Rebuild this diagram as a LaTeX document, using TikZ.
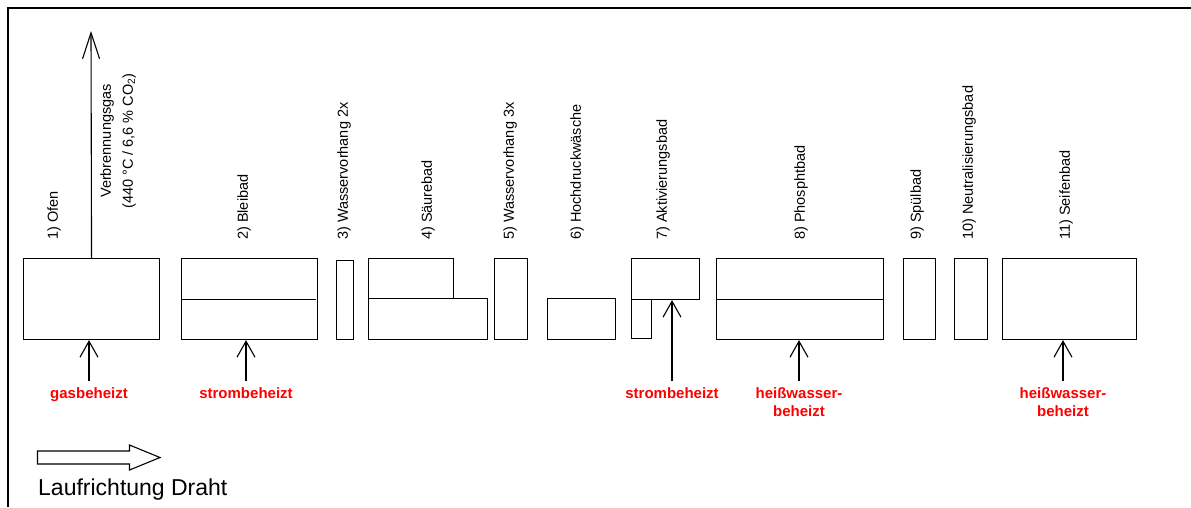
\documentclass[tikz,border=0pt]{standalone}
\usepackage{fontspec}
\setmainfont{Liberation Sans}
\usetikzlibrary{arrows.meta}

\tikzset{
  tank/.style={draw, line width=1.1pt, inner sep=0pt, anchor=north west},
  stage/.style={rotate=90, anchor=west, inner sep=0pt, font=\fontsize{14.5}{17}\selectfont},
  heatlabel/.style={text=red, align=center, anchor=north, inner sep=0pt, outer ysep=7pt,
    font=\fontsize{15}{18}\selectfont\bfseries},
  heat/.style={line width=1.1pt, -{Straight Barb[length=16pt,width=18pt]}},
}

\begin{document}
\begin{tikzpicture}[x=1pt, y=-1pt]
	\useasboundingbox (0,0) rectangle (1191,507);
	% frame
	\draw [line width=1.1pt] (8,507) -- (8,8) -- (1191,8);
	% tanks
	\node [tank, minimum width=136pt, minimum height=81pt] (ofen) at (23,258) {};
	\node [tank, minimum width=136pt, minimum height=81pt] (blei) at (181,258) {};
	\draw [line width=1.1pt] (blei.west) -- ([xshift=-2pt]blei.east);
	\node [tank, minimum width=17pt, minimum height=79pt] (wv2) at (336,260) {};
	\node [tank, minimum width=85pt, minimum height=40pt] (saeureA) at (368,258) {};
	\node [tank, minimum width=119pt, minimum height=41pt] (saeureB) at (368,298) {};
	\node [tank, minimum width=33pt, minimum height=81pt] (wv3) at (494,258) {};
	\node [tank, minimum width=68pt, minimum height=41pt] (hdw) at (547,298) {};
	\node [tank, minimum width=68pt, minimum height=41pt] (aktivA) at (631,258) {};
	\node [tank, minimum width=20pt, minimum height=39pt] (aktivB) at (631,299) {};
	\node [tank, minimum width=167pt, minimum height=81pt] (phos) at (716,258) {};
	\draw [line width=1.1pt] (phos.west) -- (phos.east);
	\node [tank, minimum width=32pt, minimum height=81pt] (spuel) at (903,258) {};
	\node [tank, minimum width=33pt, minimum height=81pt] (neutral) at (954,258) {};
	\node [tank, minimum width=134pt, minimum height=81pt] (seife) at (1002,258) {};
	% stage names
	\node [stage] (lofen) at (54,240) {1) Ofen};
	\node [stage] (lblei) at (244,240) {2) Bleibad};
	\node [stage] (lwv2) at (344,240) {3) Wasservorhang 2x};
	\node [stage] (lsaeure) at (428,240) {4) Säurebad};
	\node [stage] (lwv3) at (510,240) {5) Wasservorhang 3x};
	\node [stage] (lhdw) at (577,240) {6) Hochdruckwäsche};
	\node [stage] (laktiv) at (663,240) {7) Aktivierungsbad};
	\node [stage] (lphos) at (801,240) {8) Phosphtbad};
	\node [stage] (lspuel) at (917,240) {9) Spülbad};
	\node [stage] (lneutral) at (969,240) {10) Neutralisierungsbad};
	\node [stage] (lseife) at (1066,240) {11) Seifenbad};
	% exhaust gas
	\coordinate (abgas) at (91,31);
	\draw [line width=1.1pt, -{Straight Barb[length=26pt,width=17pt]}] (ofen.north) -- (abgas);
	\node [rotate=90, align=center, inner sep=0pt, font=\fontsize{14.5}{22}\selectfont] (gaslabel) at (118,141)
	  {Verbrennungsgas\\(440 °C / 6,6 \% CO\textsubscript{2})};
	% heating
	\node [heatlabel] (hgas) at (89,381) {gasbeheizt};
	\node [heatlabel] (hstrom1) at (246,381) {strombeheizt};
	\node [heatlabel] (hstrom2) at (672,381) {strombeheizt};
	\node [heatlabel] (hwasser1) at (799,381) {heißwasser-\\beheizt};
	\node [heatlabel] (hwasser2) at (1063,381) {heißwasser-\\beheizt};
	\draw [heat] (hgas) -- (hgas.north |- ofen.south);
	\draw [heat] (hstrom1) -- (hstrom1.north |- blei.south);
	\draw [heat] (hstrom2) -- (hstrom2.north |- aktivA.south);
	\draw [heat] (hwasser1) -- (hwasser1.north |- phos.south);
	\draw [heat] (hwasser2) -- (hwasser2.north |- seife.south);
	% direction of wire
	\draw [line width=1.1pt] (37.5,451) -- (129.5,451) -- (129.5,445) -- (160,457.5)
	  -- (129.5,470) -- (129.5,464) -- (37.5,464) -- cycle;
	\node [anchor=base west, inner sep=0pt, font=\fontsize{23}{27}\selectfont] (richtung) at (38,495)
	  {Laufrichtung Draht};
\end{tikzpicture}
\end{document}
